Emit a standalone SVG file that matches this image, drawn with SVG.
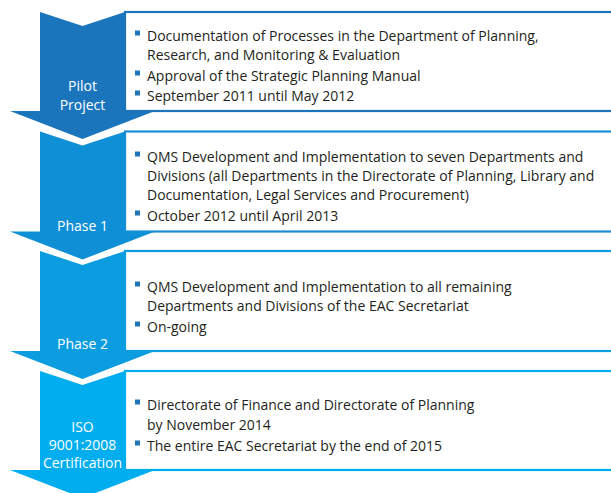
<svg xmlns="http://www.w3.org/2000/svg" width="611" height="493" viewBox="0 0 611 493">
  <style>
    .box { fill: #ffffff; stroke-width: 2.2; }
    .item { font-family: "Open Sans", "Noto Sans", "Liberation Sans", sans-serif; font-size: 14px; fill: #231f20; }
    .label { font-family: "Open Sans", "Noto Sans", "Liberation Sans", sans-serif; font-size: 14px; fill: #ffffff; text-anchor: middle; }
    .bullet { fill: #1d76bb; }
  </style>
  <defs>
    <rect id="b" class="bullet" width="5" height="5"/>
  </defs>
  <rect width="611" height="493" fill="#ffffff"/>

  <!-- Stage: Pilot Project -->
  <g id="pilot">
    <rect class="box" x="125" y="12" width="500" height="99" stroke="#1b75bc"/>
    <path d="M40,12 L82.5,26 L125,12 L125,111 L155,111 L82.5,139 L10,111 L40,111 Z" fill="#1b75bc"/>
    <text class="label" x="82.5" y="91">Pilot</text>
    <text class="label" x="82.5" y="110">Project</text>
    <use href="#b" x="135" y="30.5"/>
    <text class="item" x="147" y="41">Documentation of Processes in the Department of Planning,</text>
    <text class="item" x="147" y="60">Research, and Monitoring &amp; Evaluation</text>
    <use href="#b" x="135" y="70.5"/>
    <text class="item" x="147" y="81">Approval of the Strategic Planning Manual</text>
    <use href="#b" x="135" y="90.5"/>
    <text class="item" x="147" y="101">September 2011 until May 2012</text>
  </g>

  <!-- Stage: Phase 1 -->
  <g id="phase1">
    <rect class="box" x="125" y="131.5" width="500" height="100" stroke="#1a8cd3"/>
    <path d="M40,131.5 L82.5,145.5 L125,131.5 L125,231.5 L155,231.5 L82.5,259.5 L10,231.5 L40,231.5 Z" fill="#0f8fd6"/>
    <text class="label" x="82.5" y="231">Phase 1</text>
    <use href="#b" x="135" y="151.5"/>
    <text class="item" x="147" y="162">QMS Development and Implementation to seven Departments and</text>
    <text class="item" x="147" y="181">Divisions (all Departments in the Directorate of Planning, Library and</text>
    <text class="item" x="147" y="200">Documentation, Legal Services and Procurement)</text>
    <use href="#b" x="135" y="210.5"/>
    <text class="item" x="147" y="221">October 2012 until April 2013</text>
  </g>

  <!-- Stage: Phase 2 -->
  <g id="phase2">
    <rect class="box" x="125" y="251" width="500" height="100" stroke="#0a9ee0"/>
    <path d="M40,251 L82.5,265 L125,251 L125,351 L155,351 L82.5,379 L10,351 L40,351 Z" fill="#0b9de0"/>
    <text class="label" x="82.5" y="349">Phase 2</text>
    <use href="#b" x="135" y="281.5"/>
    <text class="item" x="147" y="292">QMS Development and Implementation to all remaining</text>
    <text class="item" x="147" y="311">Departments and Divisions of the EAC Secretariat</text>
    <use href="#b" x="135" y="321.5"/>
    <text class="item" x="147" y="332">On-going</text>
  </g>

  <!-- Stage: ISO 9001:2008 Certification -->
  <g id="iso">
    <rect class="box" x="125" y="371" width="500" height="99" stroke="#00aeef"/>
    <path d="M40,371 L82.5,385 L125,371 L125,470 L155,470 L82.5,498 L10,470 L40,470 Z" fill="#00aeef"/>
    <text class="label" x="82.5" y="432">ISO</text>
    <text class="label" x="82.5" y="450">9001:2008</text>
    <text class="label" x="82.5" y="468">Certification</text>
    <use href="#b" x="135" y="399.5"/>
    <text class="item" x="147" y="410">Directorate of Finance and Directorate of Planning</text>
    <text class="item" x="147" y="430">by November 2014</text>
    <use href="#b" x="135" y="440.5"/>
    <text class="item" x="147" y="451">The entire EAC Secretariat by the end of 2015</text>
  </g>

  <!-- stages sit directly on each other; there are no separate connector lines -->
  <g id="connectors"/>
</svg>
